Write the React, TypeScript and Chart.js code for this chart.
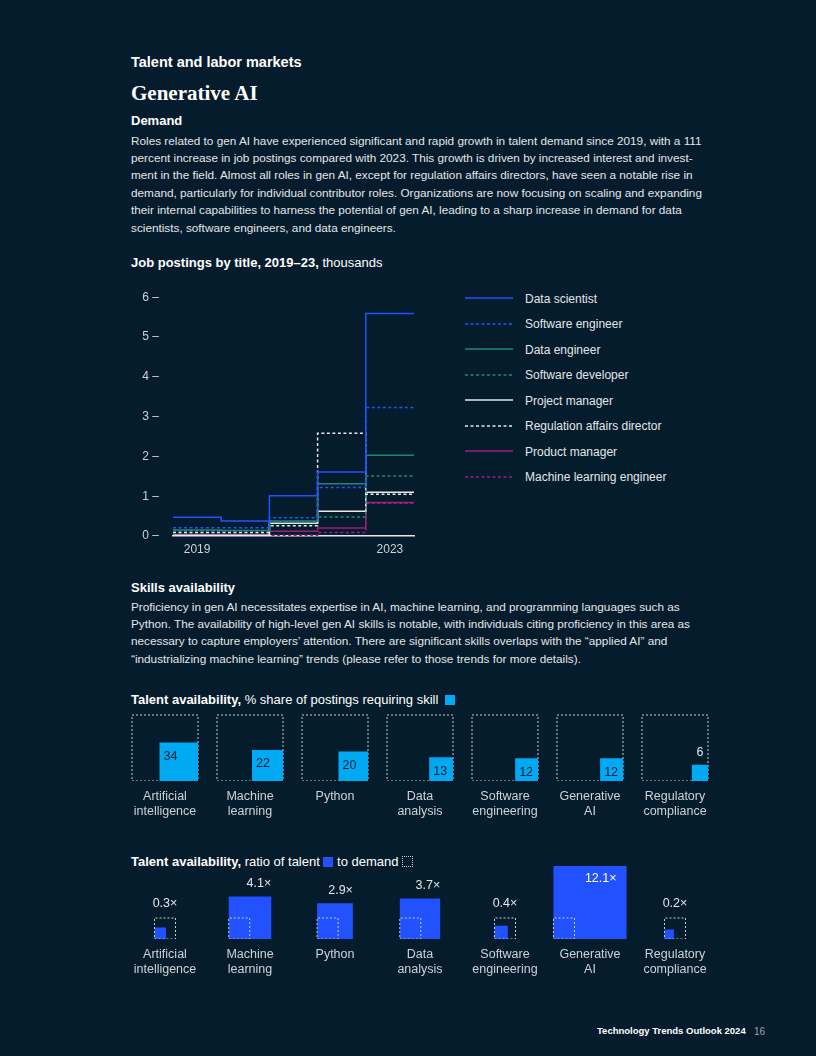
import React, { useEffect, useRef } from "react";
import { Chart, registerables } from "chart.js";

Chart.register(...registerables);

const FONT = '"Liberation Sans", Arial, Helvetica, sans-serif';
Chart.defaults.font.family = FONT;

// ---------- Data: job postings (thousands) ----------
const years = [2019, 2020, 2021, 2022, 2023];
const yearTicks = [2019, 2023];
const yTicks = [0, 1, 2, 3, 4, 5, 6];
const dataScientist = [0.47, 0.38, 1.01, 1.61, 5.59];
const softwareEngineer = [0.21, 0.21, 0.46, 1.22, 3.23];
const dataEngineer = [0.15, 0.14, 0.38, 1.31, 2.03];
const softwareDeveloper = [0.13, 0.13, 0.36, 0.48, 1.51];
const projectManager = [0.02, 0.02, 0.32, 0.62, 1.1];
const regulationDirector = [0.09, 0.09, 0.26, 2.58, 1.05];
const productManager = [0.04, 0.04, 0.12, 0.2, 0.84];
const mlEngineer = [0.03, 0.03, 0.02, 0.09, 0.82];

const seriesNames = [
  "Data scientist",
  "Software engineer",
  "Data engineer",
  "Software developer",
  "Project manager",
  "Regulation affairs director",
  "Product manager",
  "Machine learning engineer",
];
const seriesValues = [
  dataScientist,
  softwareEngineer,
  dataEngineer,
  softwareDeveloper,
  projectManager,
  regulationDirector,
  productManager,
  mlEngineer,
];

// ---------- Data: skills ----------
const skillLabelLines = [
  ["Artificial", "intelligence"],
  ["Machine", "learning"],
  ["Python"],
  ["Data", "analysis"],
  ["Software", "engineering"],
  ["Generative", "AI"],
  ["Regulatory", "compliance"],
];
const shareOfPostings = [34, 22, 20, 13, 12, 12, 6];
const talentToDemand = [0.3, 4.1, 2.9, 3.7, 0.4, 12.1, 0.2];

// ---------- Styles ----------
const BG = "#051c2c";
const BLUE = "#2251ff";
const TEAL = "#1f857b";
const WHITE = "#e6e8ea";
const MAGENTA = "#9c1e7c";
const CYAN = "#00a9f4";
const TEXT = "#e3e6e9";
const TICK = "#cdd2d7";
const DOTTED = "#c8cdd2";
const seriesColors = [BLUE, BLUE, TEAL, TEAL, WHITE, WHITE, MAGENTA, MAGENTA];
const seriesDashed = [false, true, false, true, false, true, false, true];
const DASH = [3, 2.5];

// ---------- Helpers ----------
type Pt = { x: number; y: number };
const rect = (x0: number, y0: number, x1: number, y1: number): Pt[] => [
  { x: x0, y: y0 },
  { x: x1, y: y0 },
  { x: x1, y: y1 },
  { x: x0, y: y1 },
  { x: x0, y: y0 },
];

const COL_PITCH = 85;
const COL_FIRST = 42;
const colCenter = (i: number) => COL_FIRST + COL_PITCH * i;

function JobChart() {
  const ref = useRef<HTMLCanvasElement>(null);
  useEffect(() => {
    if (!ref.current) return;
    const datasets = seriesValues.map((vals, si) => ({
      label: seriesNames[si],
      data: vals.flatMap((v, i) => [
        { x: years[i] - 0.5, y: v },
        { x: years[i] + 0.5, y: v },
      ]),
      borderColor: seriesColors[si],
      borderWidth: 1.5,
      borderDash: seriesDashed[si] ? DASH : [],
      pointRadius: 0,
      fill: false,
      tension: 0,
    }));
    const chart = new Chart(ref.current, {
      type: "line",
      data: { datasets },
      options: {
        animation: false,
        responsive: false,
        maintainAspectRatio: false,
        layout: { padding: { top: 0, right: 6, left: 0, bottom: 0 } },
        plugins: { legend: { display: false }, tooltip: { enabled: false } },
        scales: {
          x: {
            type: "linear",
            min: years[0] - 0.5,
            max: years[years.length - 1] + 0.5,
            grid: { display: false, drawTicks: false },
            border: { display: true, color: WHITE, width: 1.5 },
            afterBuildTicks: (s: any) => {
              s.ticks = yearTicks.map((v) => ({ value: v }));
            },
            afterFit: (s: any) => {
              s.height = 25;
            },
            ticks: {
              color: TICK,
              font: { size: 12, family: FONT },
              padding: 6,
              autoSkip: false,
              maxRotation: 0,
              callback: (v: any) => String(v),
            },
          },
          y: {
            min: yTicks[0],
            max: yTicks[yTicks.length - 1],
            afterBuildTicks: (s: any) => {
              s.ticks = yTicks.map((v) => ({ value: v }));
            },
            afterFit: (s: any) => {
              s.width = 43;
            },
            grid: { display: false, drawTicks: false },
            border: { display: false },
            ticks: {
              color: TICK,
              font: { size: 12, family: FONT },
              padding: 14,
              callback: (v: any) => `${v} –`,
            },
          },
        },
      },
    });
    return () => chart.destroy();
  }, []);
  return (
    <canvas
      ref={ref}
      width={290}
      height={285}
      style={{ position: "absolute", left: 130, top: 276, width: 290, height: 285 }}
    />
  );
}

type RowProps = { kind: "share" | "ratio"; top: number; plotH: number; axisH: number };

function SquareRow({ kind, top, plotH, axisH }: RowProps) {
  const ref = useRef<HTMLCanvasElement>(null);
  const W = 595;
  useEffect(() => {
    if (!ref.current) return;
    const datasets: any[] = [];
    const fills: any[] = [];
    const boxes: any[] = [];
    if (kind === "share") {
      const S = 66;
      shareOfPostings.forEach((v, i) => {
        const cx = colCenter(i);
        const x0 = cx - S / 2;
        const x1 = cx + S / 2;
        const s = S * Math.sqrt(v / 100);
        boxes.push({
          data: rect(x0, 0, x1, S),
          borderColor: DOTTED,
          borderWidth: 1,
          borderDash: [2, 2],
          fill: false,
          pointRadius: 0,
        });
        fills.push({
          data: rect(x1 - s, 0, x1, s),
          borderColor: CYAN,
          borderWidth: 0,
          backgroundColor: CYAN,
          fill: "shape",
          pointRadius: 0,
        });
      });
      datasets.push(...fills, ...boxes);
    } else {
      const D = 21;
      talentToDemand.forEach((r, i) => {
        const cx = colCenter(i);
        const s = D * Math.sqrt(r);
        const u = Math.max(D, s);
        const L = cx - u / 2;
        boxes.push({
          data: rect(L, 0, L + D, D),
          borderColor: DOTTED,
          borderWidth: 1,
          borderDash: [2, 2],
          fill: false,
          pointRadius: 0,
        });
        fills.push({
          data: rect(L, 0, L + s, s),
          borderColor: BLUE,
          borderWidth: 0,
          backgroundColor: BLUE,
          fill: "shape",
          pointRadius: 0,
        });
      });
      datasets.push(...boxes, ...fills);
    }

    const valuePlugin = {
      id: "values" + kind,
      afterDatasetsDraw(chart: any) {
        const { ctx, scales } = chart;
        const xs = scales.x;
        const ys = scales.y;
        ctx.save();
        ctx.font = `12.5px ${FONT}`;
        ctx.textBaseline = "middle";
        if (kind === "share") {
          const S = 66;
          shareOfPostings.forEach((v, i) => {
            const x1 = colCenter(i) + S / 2;
            const s = S * Math.sqrt(v / 100);
            const left = xs.getPixelForValue(x1 - s);
            const topPx = ys.getPixelForValue(s);
            if (s >= 20) {
              ctx.fillStyle = BG;
              ctx.textAlign = "left";
              ctx.fillText(String(v), left + 4, topPx + 14);
            } else {
              ctx.fillStyle = TEXT;
              ctx.textAlign = "center";
              ctx.fillText(String(v), xs.getPixelForValue(x1 - s / 2), topPx - 12);
            }
          });
        } else {
          const D = 21;
          talentToDemand.forEach((r, i) => {
            const cx = colCenter(i);
            const s = D * Math.sqrt(r);
            const u = Math.max(D, s);
            const L = cx - u / 2;
            const txt = `${r}×`;
            if (s > D) {
              const right = xs.getPixelForValue(L + s);
              const topPx = ys.getPixelForValue(s);
              ctx.textAlign = "right";
              if (s > 60) {
                ctx.fillStyle = "#ffffff";
                ctx.fillText(txt, right - 10, topPx + 13);
              } else {
                ctx.fillStyle = TEXT;
                ctx.fillText(txt, right, topPx - 13);
              }
            } else {
              ctx.fillStyle = TEXT;
              ctx.textAlign = "center";
              ctx.fillText(txt, xs.getPixelForValue(L + D / 2), ys.getPixelForValue(D) - 14);
            }
          });
        }
        ctx.restore();
      },
    };

    const chart = new Chart(ref.current, {
      type: "scatter",
      data: { datasets: datasets.map((d) => ({ ...d, showLine: true, tension: 0 })) },
      options: {
        animation: false,
        responsive: false,
        maintainAspectRatio: false,
        layout: { padding: 0 },
        plugins: { legend: { display: false }, tooltip: { enabled: false } },
        scales: {
          x: {
            type: "linear",
            min: 0,
            max: W,
            grid: { display: false, drawTicks: false },
            border: { display: false },
            afterBuildTicks: (s: any) => {
              s.ticks = skillLabelLines.map((_, i) => ({ value: colCenter(i) }));
            },
            afterFit: (s: any) => {
              s.height = axisH;
            },
            ticks: {
              color: TICK,
              font: { size: 12.5, family: FONT, lineHeight: 1.2 },
              padding: 8,
              autoSkip: false,
              maxRotation: 0,
              callback: (_v: any, idx: number) => skillLabelLines[idx],
            },
          },
          y: { type: "linear", display: false, min: 0, max: plotH },
        },
      },
      plugins: [valuePlugin],
    });
    return () => chart.destroy();
  }, []);
  return (
    <canvas
      ref={ref}
      width={W}
      height={plotH + axisH}
      style={{ position: "absolute", left: 123, top, width: W, height: plotH + axisH }}
    />
  );
}

function T(props: {
  x: number;
  y: number;
  size: number;
  weight?: number;
  color?: string;
  family?: string;
  lh?: number;
  children: React.ReactNode;
}) {
  const lh = props.lh ?? Math.round(props.size * 1.3);
  return (
    <div
      style={{
        position: "absolute",
        left: props.x,
        top: props.y - lh / 2,
        fontSize: props.size,
        lineHeight: `${lh}px`,
        fontWeight: props.weight ?? 400,
        color: props.color ?? TEXT,
        fontFamily: props.family ?? FONT,
        whiteSpace: "nowrap",
      }}
    >
      {props.children}
    </div>
  );
}

const demandLines = [
  "Roles related to gen AI have experienced significant and rapid growth in talent demand since 2019, with a 111",
  "percent increase in job postings compared with 2023. This growth is driven by increased interest and invest-",
  "ment in the field. Almost all roles in gen AI, except for regulation affairs directors, have seen a notable rise in",
  "demand, particularly for individual contributor roles. Organizations are now focusing on scaling and expanding",
  "their internal capabilities to harness the potential of gen AI, leading to a sharp increase in demand for data",
  "scientists, software engineers, and data engineers.",
];
const skillsLines = [
  "Proficiency in gen AI necessitates expertise in AI, machine learning, and programming languages such as",
  "Python. The availability of high-level gen AI skills is notable, with individuals citing proficiency in this area as",
  "necessary to capture employers’ attention. There are significant skills overlaps with the “applied AI” and",
  "“industrializing machine learning” trends (please refer to those trends for more details).",
];

export default function App() {
  return (
    <div
      style={{
        position: "absolute",
        left: 0,
        top: 0,
        width: 816,
        height: 1056,
        background: BG,
        overflow: "hidden",
        fontFamily: FONT,
      }}
    >
      <T x={131} y={62} size={14.5} weight={700} color="#ffffff">
        Talent and labor markets
      </T>
      <T x={131} y={93} size={21} weight={700} color="#ffffff" family='"Liberation Serif", "DejaVu Serif", serif'>
        Generative AI
      </T>
      <T x={131} y={120} size={13} weight={700} color="#ffffff">
        Demand
      </T>
      {demandLines.map((l, i) => (
        <T key={i} x={131} y={140 + i * 17.4} size={11.78}>
          {l}
        </T>
      ))}

      <T x={131} y={262} size={13} color="#ffffff">
        <b>Job postings by title, 2019–23,</b> thousands
      </T>
      <JobChart />
      {seriesNames.map((n, i) => (
        <React.Fragment key={n}>
          <svg
            width={48}
            height={4}
            style={{ position: "absolute", left: 465, top: 298 + i * 25.5 - 2 }}
          >
            <line
              x1={0}
              y1={2}
              x2={48}
              y2={2}
              stroke={seriesColors[i]}
              strokeWidth={1.5}
              strokeDasharray={seriesDashed[i] ? DASH.join(" ") : undefined}
            />
          </svg>
          <T x={525} y={298.5 + i * 25.5} size={12}>
            {n}
          </T>
        </React.Fragment>
      ))}

      <T x={131} y={587} size={13} weight={700} color="#ffffff">
        Skills availability
      </T>
      {skillsLines.map((l, i) => (
        <T key={i} x={131} y={606 + i * 17.4} size={11.78}>
          {l}
        </T>
      ))}

      <T x={131} y={699} size={13} color="#ffffff">
        <b>Talent availability,</b> % share of postings requiring skill{" "}
        <span
          style={{
            display: "inline-block",
            width: 10,
            height: 10,
            background: CYAN,
            verticalAlign: "-1px",
            marginLeft: 3,
          }}
        />
      </T>
      <SquareRow kind="share" top={710} plotH={71} axisH={44} />

      <T x={131} y={861} size={13} color="#ffffff">
        <b>Talent availability,</b> ratio of talent{" "}
        <span
          style={{
            display: "inline-block",
            width: 10,
            height: 10,
            background: BLUE,
            verticalAlign: "-1px",
          }}
        />{" "}
        to demand{" "}
        <span
          style={{
            display: "inline-block",
            width: 9,
            height: 9,
            border: `1px dotted ${DOTTED}`,
            verticalAlign: "-1px",
          }}
        />
      </T>
      <SquareRow kind="ratio" top={862} plotH={77} axisH={41} />

      <T x={597} y={1031} size={9.5} weight={700} color="#ffffff">
        Technology Trends Outlook 2024
      </T>
      <T x={754} y={1031} size={10} color="#9aa3ab">
        16
      </T>
    </div>
  );
}
